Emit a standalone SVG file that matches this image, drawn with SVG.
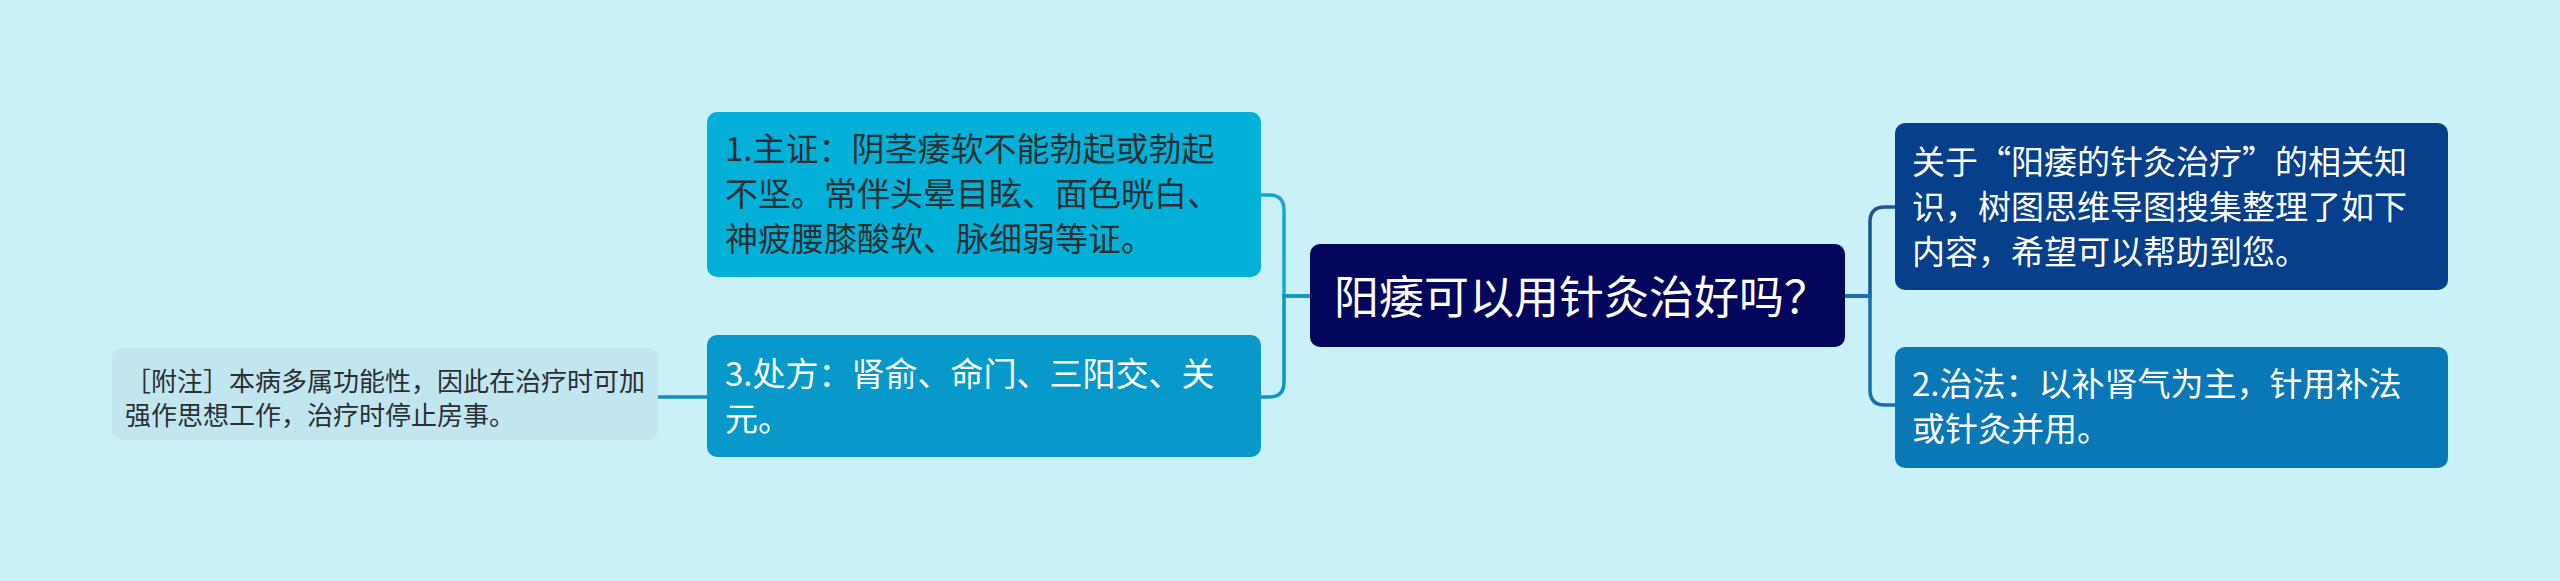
<svg xmlns="http://www.w3.org/2000/svg" width="2560" height="581" viewBox="0 0 2560 581">
<style>
text{font-family:"Noto Sans CJK SC","Noto Sans",sans-serif}
.t32{font-size:33px}
.t26{font-size:26px}
.dark{fill:#2a2f33}
.white{fill:#ffffff}
.conn{fill:none;stroke-width:3.5}
</style>
<rect x="0" y="0" width="2560" height="581" fill="#caf0f8"/>
<g id="connectors">
<path class="conn" stroke="#17a6d4" d="M1310,296 H1284 V210 Q1284,195 1269,195 H1261"/>
<path class="conn" stroke="#0e93c4" d="M1310,296 H1284 V382 Q1284,397 1269,397 H1261"/>
<path class="conn" stroke="#1190c2" d="M707,397 H658"/>
<path class="conn" stroke="#1b5597" d="M1845,296 H1870 V222 Q1870,207 1885,207 H1895"/>
<path class="conn" stroke="#1670b0" d="M1845,296 H1870 V390 Q1870,405 1885,405 H1895"/>
</g>
<g id="center">
<rect x="1310" y="244" width="535" height="103" rx="10" fill="#03065a"/>
<text x="1334" y="314" font-size="45" class="white">阳痿可以用针灸治好吗？</text>
</g>
<g id="n1">
<rect x="707" y="112" width="554" height="165" rx="10" fill="#03b1d8"/>
<text class="t32 dark" x="725" y="161">1.主证：阴茎痿软不能勃起或勃起</text>
<text class="t32 dark" x="725" y="206">不坚。常伴头晕目眩、面色晄白、</text>
<text class="t32 dark" x="725" y="251">神疲腰膝酸软、脉细弱等证。</text>
</g>
<g id="n3">
<rect x="707" y="335" width="554" height="122" rx="10" fill="#0799c9"/>
<text class="t32 white" x="725" y="386">3.处方：肾俞、命门、三阳交、关</text>
<text class="t32 white" x="725" y="431">元。</text>
</g>
<g id="note">
<rect x="112" y="348" width="546" height="92" rx="10" fill="#c2e6ef"/>
<text class="t26 dark" x="125" y="391">［附注］本病多属功能性，因此在治疗时可加</text>
<text class="t26 dark" x="125" y="425">强作思想工作，治疗时停止房事。</text>
</g>
<g id="intro">
<rect x="1895" y="123" width="553" height="167" rx="10" fill="#073f8a"/>
<text class="t32 white" x="1912" y="174">关于“阳痿的针灸治疗”的相关知</text>
<text class="t32 white" x="1912" y="219">识，树图思维导图搜集整理了如下</text>
<text class="t32 white" x="1912" y="264">内容，希望可以帮助到您。</text>
</g>
<g id="n2">
<rect x="1895" y="347" width="553" height="121" rx="10" fill="#0a77b6"/>
<text class="t32 white" x="1912" y="396">2.治法：以补肾气为主，针用补法</text>
<text class="t32 white" x="1912" y="441">或针灸并用。</text>
</g>
</svg>
